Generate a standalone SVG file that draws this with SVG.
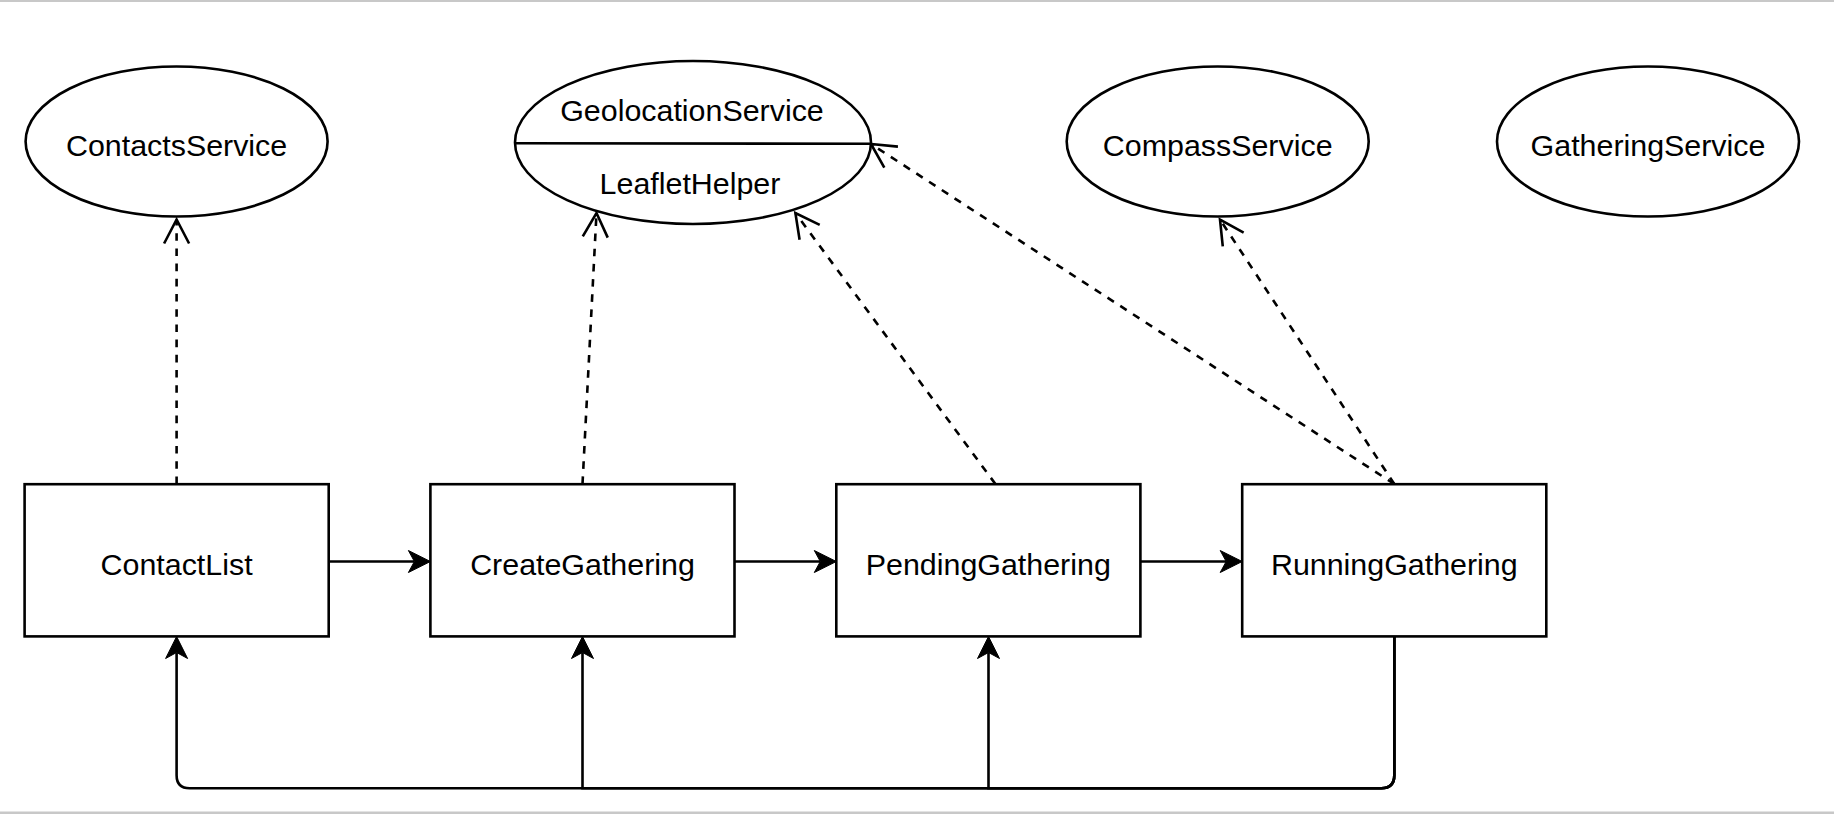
<svg xmlns="http://www.w3.org/2000/svg" width="1834" height="814" viewBox="0 0 1834 814">
  <style>
    .shape { fill: #ffffff; stroke: #000000; stroke-width: 2.6; }
    .label { font-family: "Liberation Sans", Arial, sans-serif; font-size: 30.4px; fill: #000000; text-anchor: middle; }
    .flow { fill: none; stroke: #000000; stroke-width: 2.6; }
    .dep { fill: none; stroke: #000000; stroke-width: 2.6; stroke-dasharray: 7.6 7.6; }
    .frame { fill: #c8c8c8; }
  </style>
  <defs>
    <marker id="filled" markerUnits="userSpaceOnUse" orient="auto" refX="0" refY="0" markerWidth="30" markerHeight="30" overflow="visible">
      <path d="M-6,-11 L16,0 L-6,11 L0,0 Z" fill="#000000" stroke="#000000" stroke-width="1" stroke-linejoin="miter"/>
    </marker>
    <marker id="open" markerUnits="userSpaceOnUse" orient="auto" refX="0" refY="0" markerWidth="30" markerHeight="30" overflow="visible">
      <path d="M-24,-12.5 L0,0 L-24,12.5" fill="none" stroke="#000000" stroke-width="2.6" stroke-dasharray="none"/>
    </marker>
  </defs>

  <rect class="frame" x="0" y="0" width="1834" height="2"/>
  <rect class="frame" x="0" y="811.5" width="1834" height="2.5"/>

  <g id="connectors">
    <!-- flow arrows -->
    <path class="flow" d="M328.7,561.5 L414.4,561.5" marker-end="url(#filled)"/>
    <path class="flow" d="M734.6,561.5 L820.3,561.5" marker-end="url(#filled)"/>
    <path class="flow" d="M1140.5,561.5 L1226.2,561.5" marker-end="url(#filled)"/>
    <!-- return paths -->
    <path class="flow" d="M1394.3,636.5 L1394.3,775.3 Q1394.3,788.3 1381.3,788.3 L189.6,788.3 Q176.6,788.3 176.6,775.3 L176.6,652.5" marker-end="url(#filled)"/>
    <path class="flow" d="M1394.3,636.5 L1394.3,775.3 Q1394.3,788.3 1381.3,788.3 L582.5,788.3 L582.5,652.5" marker-end="url(#filled)"/>
    <path class="flow" d="M1394.3,636.5 L1394.3,775.3 Q1394.3,788.3 1381.3,788.3 L988.5,788.3 L988.5,652.5" marker-end="url(#filled)"/>
    <!-- dependencies -->
    <path class="dep" d="M176.6,484 L176.6,219.5" marker-end="url(#open)"/>
    <path class="dep" d="M582.5,484 L596.5,213" marker-end="url(#open)"/>
    <path class="dep" d="M995.4,484 L795.4,213" marker-end="url(#open)"/>
    <path class="dep" d="M1394.3,484 L871,144" marker-end="url(#open)"/>
    <path class="dep" d="M1394.3,484 L1220,219.5" marker-end="url(#open)"/>
  </g>

  <g id="ContactsService">
    <ellipse class="shape" cx="176.6" cy="141.5" rx="151" ry="75"/>
    <text class="label" x="176.6" y="155.5">ContactsService</text>
  </g>
  <g id="GeolocationService">
    <ellipse class="shape" cx="693" cy="142.5" rx="178" ry="81.5"/>
    <line x1="515" y1="143.3" x2="871" y2="143.8" stroke="#000000" stroke-width="2.6"/>
    <text class="label" x="692" y="120.5">GeolocationService</text>
    <text class="label" x="690" y="194">LeafletHelper</text>
  </g>
  <g id="CompassService">
    <ellipse class="shape" cx="1217.7" cy="141.5" rx="151" ry="75"/>
    <text class="label" x="1217.7" y="155.5">CompassService</text>
  </g>
  <g id="GatheringService">
    <ellipse class="shape" cx="1648" cy="141.5" rx="151" ry="75"/>
    <text class="label" x="1648" y="155.5">GatheringService</text>
  </g>

  <g id="ContactList">
    <rect class="shape" x="24.6" y="484.2" width="304.1" height="152.2"/>
    <text class="label" x="176.6" y="574.5">ContactList</text>
  </g>
  <g id="CreateGathering">
    <rect class="shape" x="430.4" y="484.2" width="304.1" height="152.2"/>
    <text class="label" x="582.5" y="574.5">CreateGathering</text>
  </g>
  <g id="PendingGathering">
    <rect class="shape" x="836.3" y="484.2" width="304.1" height="152.2"/>
    <text class="label" x="988.3" y="574.5">PendingGathering</text>
  </g>
  <g id="RunningGathering">
    <rect class="shape" x="1242.2" y="484.2" width="304.1" height="152.2"/>
    <text class="label" x="1394.3" y="574.5">RunningGathering</text>
  </g>
</svg>
